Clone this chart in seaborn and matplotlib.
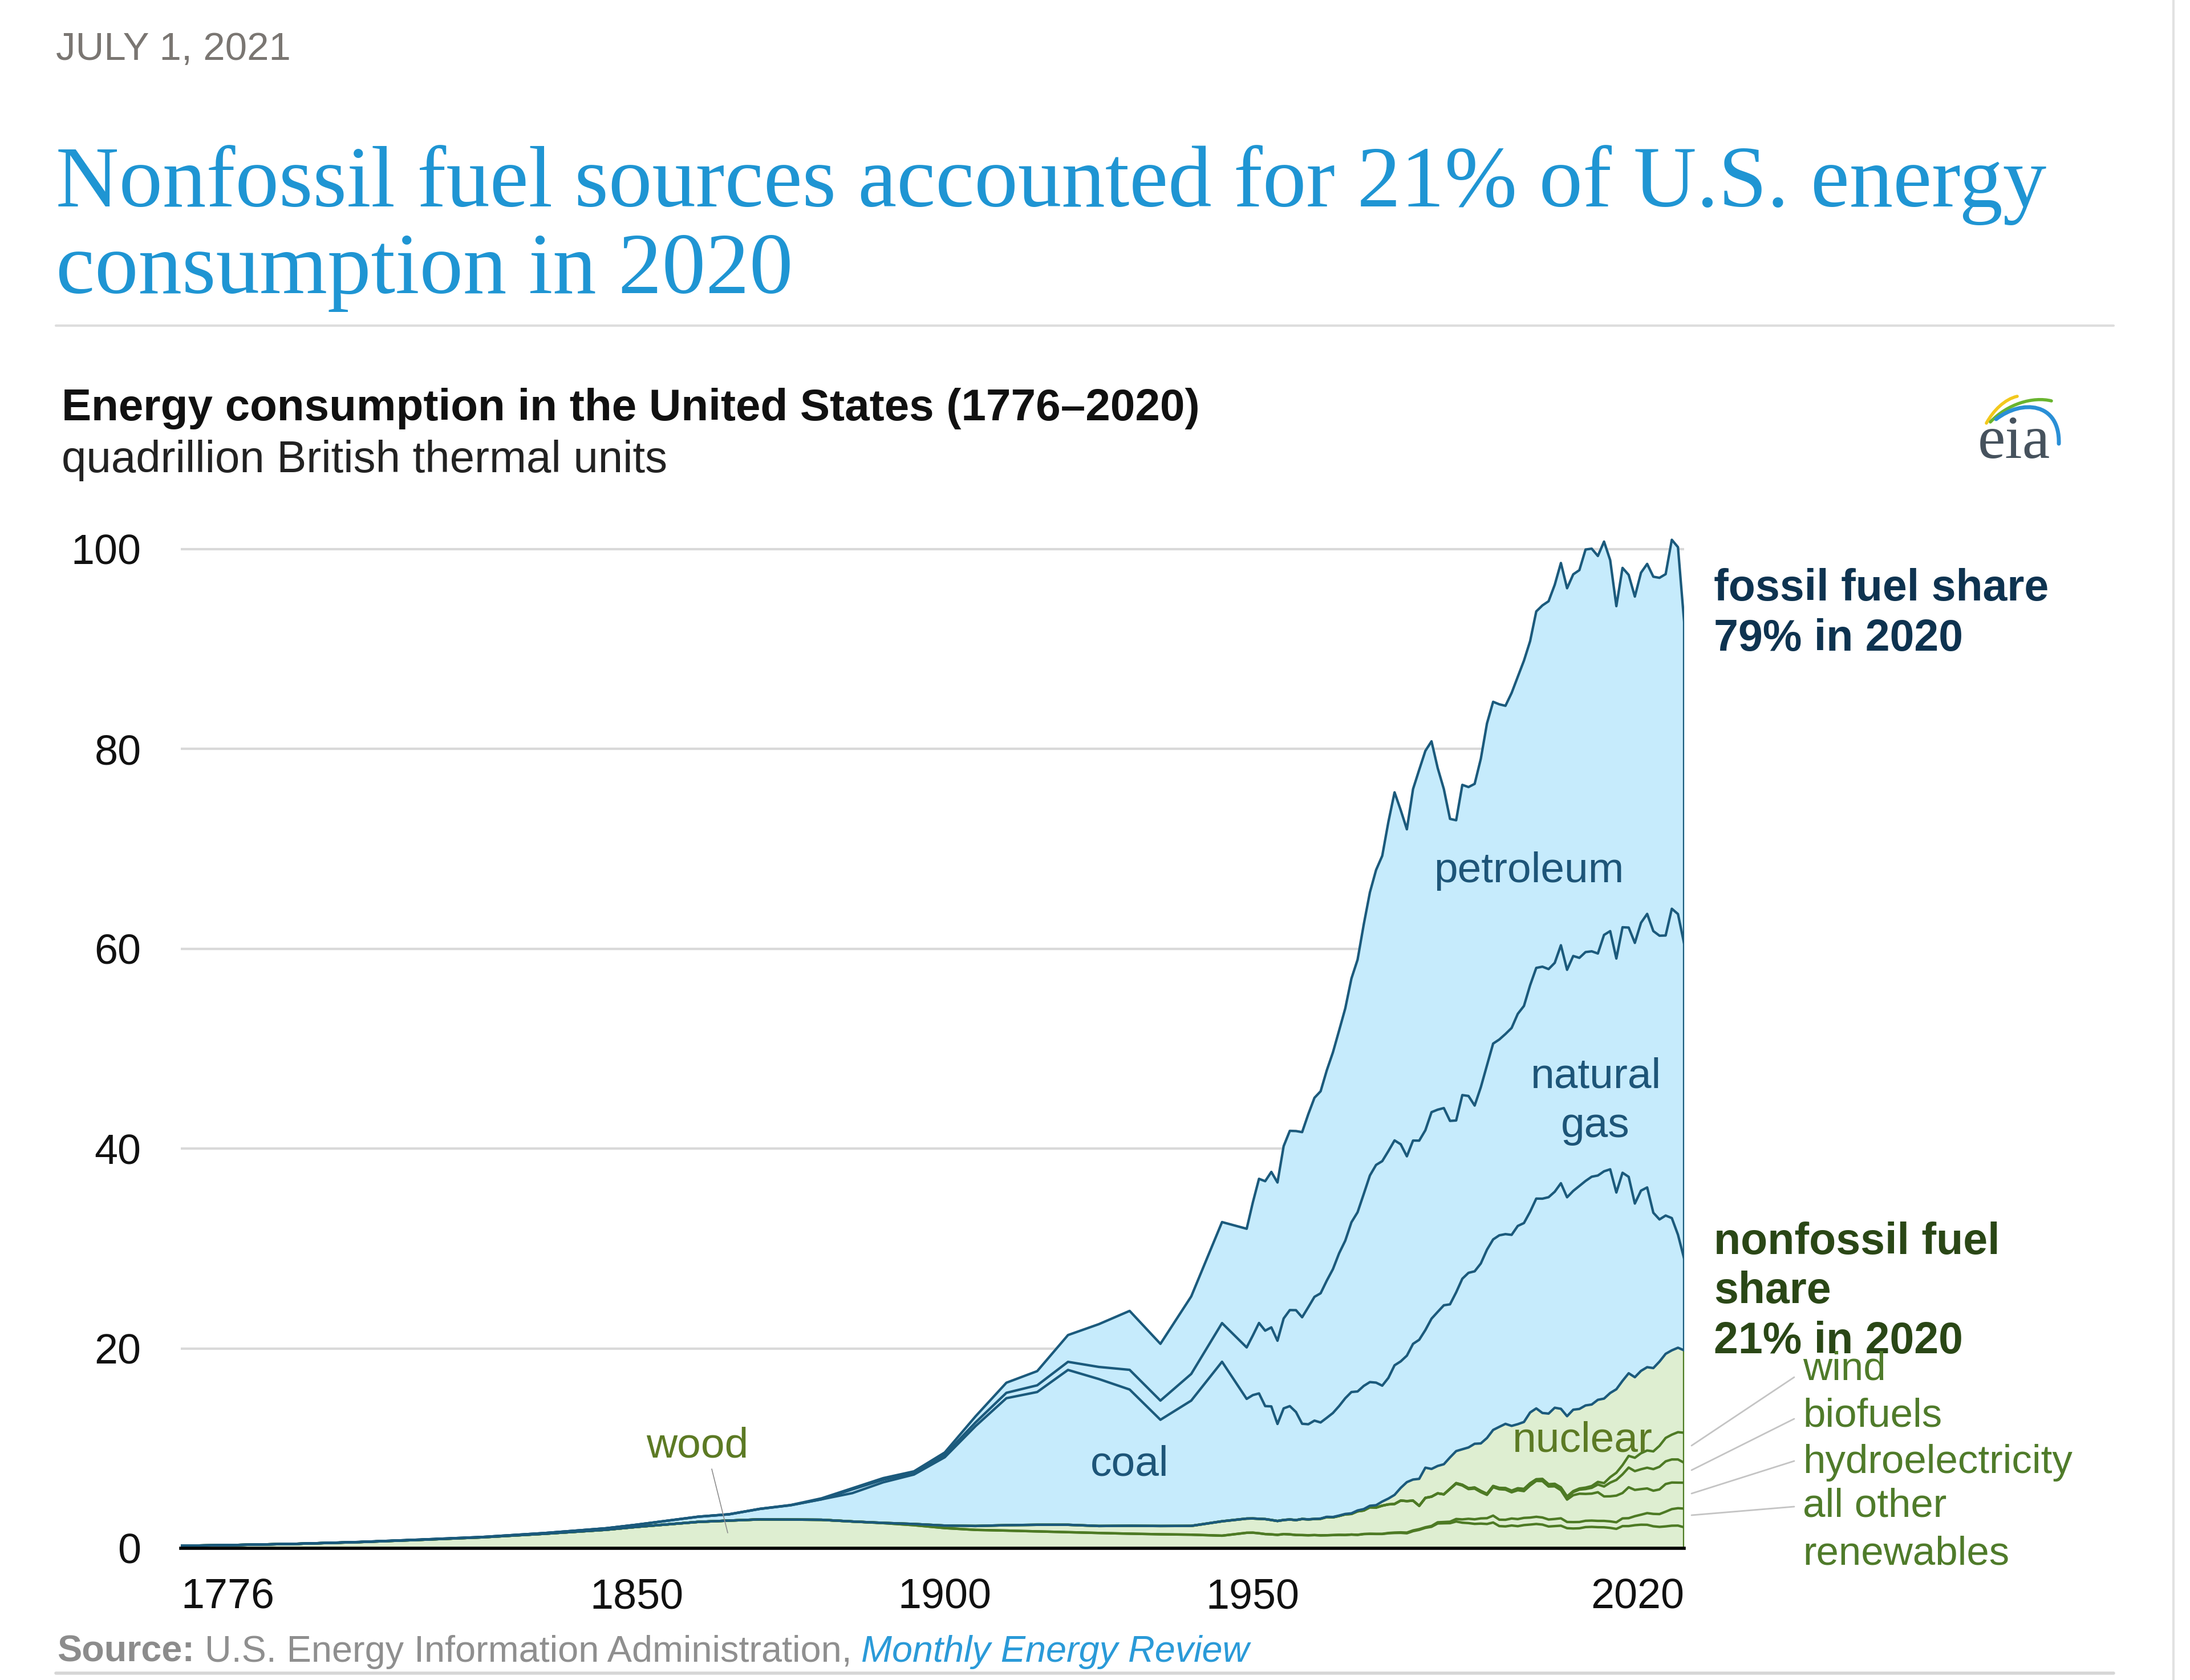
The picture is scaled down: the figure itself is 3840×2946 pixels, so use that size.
import numpy as np
import pandas as pd
import matplotlib
matplotlib.use("Agg")
import matplotlib.pyplot as plt
import seaborn as sns
from matplotlib.path import Path
from matplotlib.patches import PathPatch

# ---------------- data (quadrillion Btu) ----------------
years_early = [1776, 1785, 1795, 1805, 1815, 1825, 1835, 1845,
               1850, 1855, 1860, 1865, 1870, 1875, 1880, 1885, 1890, 1895,
               1900, 1905, 1910, 1915, 1920, 1925, 1930, 1935, 1940, 1945]
years_annual = list(range(1949, 2021))
years = years_early + years_annual

wood_early = [0.25, 0.33, 0.45, 0.62, 0.85, 1.10, 1.45, 1.85,
              2.14, 2.39, 2.64, 2.77, 2.89, 2.87, 2.85, 2.68, 2.52, 2.31,
              2.02, 1.84, 1.77, 1.69, 1.61, 1.53, 1.46, 1.40, 1.36, 1.26]
coal_early = [0, 0, 0, 0.01, 0.02, 0.03, 0.07, 0.15,
              0.22, 0.37, 0.52, 0.63, 1.05, 1.44, 2.05, 2.84, 4.06, 4.95,
              6.84, 10.00, 12.71, 13.29, 15.50, 14.71, 13.64, 10.63, 12.54, 15.97]
petroleum_early = [0] * 8 + [0, 0, 0.003, 0.006, 0.011, 0.02, 0.10, 0.12, 0.16, 0.17,
                             0.23, 0.61, 1.01, 1.42, 2.68, 4.28, 5.90, 5.68, 7.76, 10.11]
gas_early = [0] * 8 + [0, 0, 0, 0, 0, 0, 0, 0.37, 0.26, 0.15,
                       0.25, 0.37, 0.54, 0.67, 0.81, 1.21, 1.97, 1.92, 2.67, 3.87]
hydro_early = [0] * 8 + [0, 0, 0, 0, 0, 0, 0, 0, 0.02, 0.12,
                         0.25, 0.39, 0.54, 0.66, 0.74, 0.70, 0.79, 0.83, 0.88, 1.44]
zero_early = [0] * 28

petroleum_annual = [
    11.88, 13.32, 14.43, 14.96, 15.56, 15.84, 17.25, 17.94, 17.93, 18.53,
    19.32, 19.92, 20.22, 21.05, 21.70, 22.30, 23.25, 24.40, 25.28, 26.98,
    28.34, 29.52, 30.56, 32.95, 34.84, 33.45, 32.73, 35.18, 37.12, 37.97,
    37.12, 34.20, 31.93, 30.23, 30.05, 31.05, 30.92, 32.20, 32.87, 34.22,
    34.21, 33.55, 32.85, 33.53, 33.74, 34.56, 34.44, 35.68, 36.16, 36.82,
    37.84, 38.26, 38.19, 38.20, 38.81, 40.29, 40.30, 39.79, 39.37, 37.13,
    35.27, 35.97, 35.30, 34.66, 35.04, 35.03, 35.47, 35.82, 36.17, 36.93,
    36.72, 32.20]
gas_annual = [
    5.15, 5.97, 7.05, 7.55, 7.91, 8.33, 9.00, 9.61, 10.19, 10.66,
    11.72, 12.39, 12.93, 13.73, 14.40, 15.29, 15.77, 16.99, 17.94, 19.21,
    20.68, 21.79, 22.47, 22.70, 22.51, 21.73, 19.95, 20.35, 19.93, 20.00,
    20.67, 20.24, 19.74, 18.36, 17.20, 18.38, 17.70, 16.59, 17.64, 18.45,
    19.60, 19.60, 20.03, 20.71, 21.23, 21.73, 22.67, 23.09, 23.22, 22.83,
    22.91, 23.82, 22.77, 23.51, 22.83, 22.91, 22.56, 22.22, 23.66, 23.84,
    23.42, 24.57, 24.95, 26.09, 26.81, 27.38, 28.19, 28.40, 28.03, 30.96,
    32.10, 31.52]
coal_annual = [
    11.98, 12.35, 12.55, 11.31, 11.37, 9.71, 11.17, 11.35, 10.82, 9.53,
    9.52, 9.84, 9.62, 9.91, 10.41, 10.96, 11.58, 12.14, 11.91, 12.33,
    12.38, 12.27, 11.60, 12.08, 12.97, 12.66, 12.66, 13.58, 13.92, 13.77,
    15.04, 15.42, 15.91, 15.32, 15.89, 17.07, 17.48, 17.26, 18.01, 18.85,
    19.07, 19.17, 18.99, 19.12, 19.84, 19.91, 20.09, 21.00, 21.45, 21.66,
    21.62, 22.58, 21.91, 21.90, 22.32, 22.47, 22.80, 22.45, 22.75, 22.39,
    19.69, 20.83, 19.66, 17.38, 18.04, 17.99, 15.55, 14.23, 13.84, 13.24,
    11.31, 9.18]
nuclear_annual = [
    0, 0, 0, 0, 0, 0, 0, 0, 0, 0.002,
    0.002, 0.006, 0.02, 0.026, 0.038, 0.04, 0.043, 0.064, 0.088, 0.142,
    0.154, 0.239, 0.413, 0.584, 0.910, 1.272, 1.900, 2.111, 2.702, 3.024,
    2.776, 2.739, 3.008, 3.131, 3.203, 3.553, 4.076, 4.380, 4.754, 5.587,
    5.602, 6.104, 6.422, 6.479, 6.410, 6.694, 7.075, 7.087, 6.597, 7.068,
    7.610, 7.862, 8.029, 8.145, 7.960, 8.223, 8.161, 8.215, 8.459, 8.426,
    8.355, 8.434, 8.269, 8.062, 8.244, 8.338, 8.337, 8.427, 8.419, 8.438,
    8.452, 8.251]
hydro_annual = [
    1.42, 1.42, 1.45, 1.50, 1.44, 1.39, 1.41, 1.49, 1.49, 1.61,
    1.59, 1.61, 1.66, 1.82, 1.77, 1.89, 2.06, 2.06, 2.35, 2.35,
    2.65, 2.63, 2.82, 2.86, 2.86, 3.18, 3.15, 2.98, 2.33, 2.94,
    2.93, 2.90, 2.76, 3.27, 3.53, 3.39, 2.97, 3.07, 2.63, 2.33,
    2.84, 3.05, 3.02, 2.62, 2.89, 2.68, 3.21, 3.59, 3.64, 3.30,
    3.27, 2.81, 2.24, 2.69, 2.83, 2.69, 2.70, 2.87, 2.45, 2.51,
    2.67, 2.54, 3.10, 2.63, 2.56, 2.47, 2.32, 2.47, 2.77, 2.66,
    2.56, 2.59]
wood_annual = [
    1.55, 1.56, 1.50, 1.42, 1.39, 1.34, 1.42, 1.39, 1.33, 1.32,
    1.30, 1.32, 1.29, 1.30, 1.32, 1.34, 1.33, 1.37, 1.34, 1.42,
    1.44, 1.43, 1.43, 1.50, 1.53, 1.54, 1.50, 1.71, 1.84, 2.04,
    2.15, 2.48, 2.50, 2.51, 2.68, 2.56, 2.52, 2.44, 2.47, 2.43,
    2.58, 2.22, 2.19, 2.28, 2.21, 2.32, 2.37, 2.43, 2.37, 2.18,
    2.22, 2.26, 2.01, 1.98, 2.00, 2.12, 2.14, 2.11, 2.10, 2.04,
    1.94, 2.22, 2.22, 2.31, 2.36, 2.35, 2.20, 2.14, 2.19, 2.26,
    2.27, 2.10]
other_annual = [
    0, 0, 0, 0, 0, 0, 0, 0, 0, 0,
    0, 0.001, 0.002, 0.002, 0.003, 0.004, 0.004, 0.004, 0.007, 0.009,
    0.01, 0.011, 0.012, 0.031, 0.043, 0.053, 0.07, 0.078, 0.077, 0.064,
    0.084, 0.12, 0.13, 0.15, 0.25, 0.33, 0.43, 0.46, 0.52, 0.58,
    0.69, 0.64, 0.66, 0.70, 0.71, 0.72, 0.70, 0.72, 0.71, 0.70,
    0.71, 0.74, 0.62, 0.64, 0.63, 0.63, 0.63, 0.63, 0.64, 0.65,
    0.66, 0.77, 0.79, 0.90, 1.00, 1.17, 1.24, 1.28, 1.47, 1.66,
    1.74, 1.87]
biofuels_annual = [0] * 32 + [
    0.013, 0.034, 0.063, 0.077, 0.093, 0.11, 0.12, 0.11,
    0.11, 0.11, 0.13, 0.14, 0.17, 0.19, 0.20, 0.14, 0.19, 0.20,
    0.21, 0.23, 0.25, 0.31, 0.41, 0.49, 0.58, 0.77, 0.99, 1.37,
    1.57, 1.87, 1.97, 1.88, 1.99, 2.07, 2.16, 2.27, 2.27, 2.31,
    2.32, 2.00]
wind_annual = [0] * 40 + [
    0.022, 0.029, 0.031, 0.030, 0.031, 0.036, 0.033, 0.033, 0.034, 0.031,
    0.046, 0.057, 0.070, 0.105, 0.115, 0.142, 0.178, 0.264, 0.341, 0.546,
    0.721, 0.923, 1.168, 1.340, 1.601, 1.728, 1.777, 2.096, 2.343, 2.482,
    2.730, 3.000]

x_ticks = [1776, 1850, 1900, 1950, 2020]
y_ticks = [0, 20, 40, 60, 80, 100]

df = pd.DataFrame({
    "year": years,
    "wood": wood_early + wood_annual,
    "other": zero_early + other_annual,
    "hydro": hydro_early + hydro_annual,
    "biofuels": zero_early + biofuels_annual,
    "wind": zero_early + wind_annual,
    "nuclear": zero_early + nuclear_annual,
    "coal": coal_early + coal_annual,
    "gas": gas_early + gas_annual,
    "petroleum": petroleum_early + petroleum_annual,
})
order = ["wood", "other", "hydro", "biofuels", "wind", "nuclear", "coal", "gas", "petroleum"]
cum = df[order].cumsum(axis=1)
cum["year"] = df["year"]

# ---------------- style ----------------
GREEN_FILL = "#deeed1"
BLUE_FILL = "#c6ebfc"
GREEN_LINE = "#4d7a24"
BLUE_LINE = "#1b5a7c"
LW = 3.1

sns.set_theme(style="white")
plt.rcParams["font.family"] = ["Liberation Sans", "DejaVu Sans"]

W, H, DPI = 3840, 2946, 100
fig = plt.figure(figsize=(W / DPI, H / DPI), dpi=DPI)
fig.patch.set_facecolor("white")

ax_l, ax_r = 317, 2953
y0_px, ppu = 2715, 17.52
ymax = 104
top_px = y0_px - ymax * ppu
ax = fig.add_axes([ax_l / W, 1 - y0_px / H, (ax_r - ax_l) / W, (y0_px - top_px) / H])
ax.set_facecolor("none")

ax.fill_between(cum["year"], 0, cum["nuclear"], color=GREEN_FILL, lw=0, zorder=1)
ax.fill_between(cum["year"], cum["nuclear"], cum["petroleum"], color=BLUE_FILL, lw=0, zorder=1)

long = cum.melt(id_vars="year", value_vars=order, var_name="boundary", value_name="value")
palette = {k: (GREEN_LINE if k in ["wood", "other", "hydro", "biofuels", "wind"] else BLUE_LINE) for k in order}
sns.lineplot(data=long, x="year", y="value", hue="boundary", hue_order=order,
             palette=palette, linewidth=LW, estimator=None, sort=False,
             legend=False, ax=ax, zorder=3)

last = cum.iloc[-1]
ax.plot([last["year"]] * 2, [0, last["nuclear"]], color=GREEN_LINE, lw=LW, zorder=3)
ax.plot([last["year"]] * 2, [last["nuclear"], last["petroleum"]], color=BLUE_LINE, lw=LW, zorder=3)

ax.set_xlim(1776, 2020)
ax.set_ylim(0, ymax)
ax.set_xticks(x_ticks)
ax.set_xticklabels([str(v) for v in x_ticks])
ax.set_yticks(y_ticks)
ax.set_yticklabels([str(v) for v in y_ticks])
ax.tick_params(axis="both", length=0, labelsize=53, labelcolor="#111111")
ax.tick_params(axis="x", pad=37)
ax.tick_params(axis="y", pad=50)
ax.grid(axis="y", color="#d9d9d9", lw=3.0)
ax.grid(axis="x", visible=False)
ax.set_axisbelow(True)
for s in ["top", "right", "left"]:
    ax.spines[s].set_visible(False)
ax.spines["bottom"].set_color("black")
ax.spines["bottom"].set_linewidth(4.0)
ax.spines["bottom"].set_zorder(4)
ax.set_xlabel("")
ax.set_ylabel("")
xl = ax.get_xticklabels()
xl[0].set_ha("left")
xl[-1].set_ha("right")

# ---------------- overlay (pixel coordinates) ----------------
ov = fig.add_axes([0, 0, 1, 1])
ov.set_xlim(0, W)
ov.set_ylim(H, 0)
ov.axis("off")
ov.patch.set_alpha(0)

fig.canvas.draw()
renderer = fig.canvas.get_renderer()


def fit(x, y, s, width, size0=40, **kw):
    t = ov.text(x, y, s, fontsize=size0, va="baseline", **kw)
    bb = t.get_window_extent(renderer=renderer)
    t.set_fontsize(size0 * width / bb.width)
    return t


# header
fit(98, 105, "JULY 1, 2021", 411, color="#7a7672")
t1 = fit(98, 362, "Nonfossil fuel sources accounted for 21% of U.S. energy", 3485,
         family=["Liberation Serif", "DejaVu Serif"], color="#1f95d3")
ov.text(98, 514, "consumption in 2020", fontsize=t1.get_fontsize(), va="baseline",
        family=["Liberation Serif", "DejaVu Serif"], color="#1f95d3")
ov.plot([98, 3706], [571, 571], color="#dddddd", lw=3)
ov.plot([3811, 3811], [0, H], color="#e2e2e2", lw=3)

fit(108, 737, "Energy consumption in the United States (1776\u20132020)", 1993,
    weight="bold", color="#111111")
fit(108, 828, "quadrillion British thermal units", 1063, color="#222222")

# eia logo
lg = fit(3468, 803, "eia", 127, family=["Liberation Serif", "DejaVu Serif"], color="#46525d")


def curve(pts, color, lw):
    codes = [Path.MOVETO] + [Path.CURVE4] * (len(pts) - 1)
    ov.add_patch(PathPatch(Path(pts, codes), fc="none", ec=color, lw=lw, capstyle="round"))


curve([(3483, 742), (3495, 720), (3515, 700), (3537, 695)], "#f2c81c", 4)
curve([(3490, 740), (3520, 708), (3565, 695), (3597, 703)], "#69b42e", 4)
curve([(3500, 735), (3545, 700), (3612, 705), (3610, 778)], "#2a8fd6", 5)

# in-chart labels
lab_kw = dict(fontsize=54, va="baseline", ha="center")
ov.text(2681, 1547, "petroleum", color="#1d5578", **lab_kw)
ov.text(2799, 1908, "natural", color="#1d5578", **lab_kw)
ov.text(2797, 1994, "gas", color="#1d5578", **lab_kw)
ov.text(1981, 2587, "coal", color="#1d5578", **lab_kw)
ov.text(1223, 2556, "wood", color="#5c7a24", **lab_kw)
ov.text(2775, 2546, "nuclear", color="#5c7a24", **lab_kw)
ov.plot([1248, 1276], [2576, 2688], color="#8f8f8f", lw=1.2)

# right annotations
fs_bold = 55.5
ov.text(3005, 1053, "fossil fuel share", fontsize=fs_bold, weight="bold", color="#0e3350", va="baseline")
ov.text(3005, 1141, "79% in 2020", fontsize=fs_bold, weight="bold", color="#0e3350", va="baseline")
ov.text(3005, 2199, "nonfossil fuel", fontsize=fs_bold, weight="bold", color="#2a4716", va="baseline")
ov.text(3005, 2285, "share", fontsize=fs_bold, weight="bold", color="#2a4716", va="baseline")
ov.text(3005, 2373, "21% in 2020", fontsize=fs_bold, weight="bold", color="#2a4716", va="baseline")

fs_r = 51
rk = dict(fontsize=fs_r, color="#4f7b2a", va="baseline", zorder=5)
ov.text(3161, 2419, "wind", **rk)
ov.text(3161, 2501, "biofuels", **rk)
ov.text(3161, 2583, "hydroelectricity", **rk)
ov.text(3161, 2660, "all other", **rk)
ov.text(3161, 2744, "renewables", **rk)
for (xa, ya, xb, yb) in [(3146, 2415, 2966, 2535), (3146, 2488, 2966, 2578),
                         (3146, 2562, 2966, 2619), (3146, 2642, 2966, 2657)]:
    ov.plot([xa, xb], [ya, yb], color="#c4c4c4", lw=2.0)

# source line
pieces = [("Source:", dict(weight="bold", color="#8c8c8c")),
          ("U.S. Energy Information Administration,", dict(color="#8f8f8f")),
          ("Monthly Energy Review", dict(style="italic", color="#2a9ad8"))]
s0 = 40
widths = []
tmp = []
for s, kw in pieces:
    t = ov.text(0, 0, s, fontsize=s0, **kw)
    widths.append(t.get_window_extent(renderer=renderer).width)
    tmp.append(t)
for t in tmp:
    t.remove()
gap0 = 0.278 * s0 * DPI / 72
scale = (2190 - 100) / (sum(widths) + 2 * gap0)
fs_src = s0 * scale
x = 100
for (s, kw), w in zip(pieces, widths):
    ov.text(x, 2914, s, fontsize=fs_src, va="baseline", **kw)
    x += (w + gap0) * scale
ov.plot([98, 3706], [2934, 2934], color="#d6d6d6", lw=4)

fig.savefig("out.png", dpi=DPI, facecolor="white")
